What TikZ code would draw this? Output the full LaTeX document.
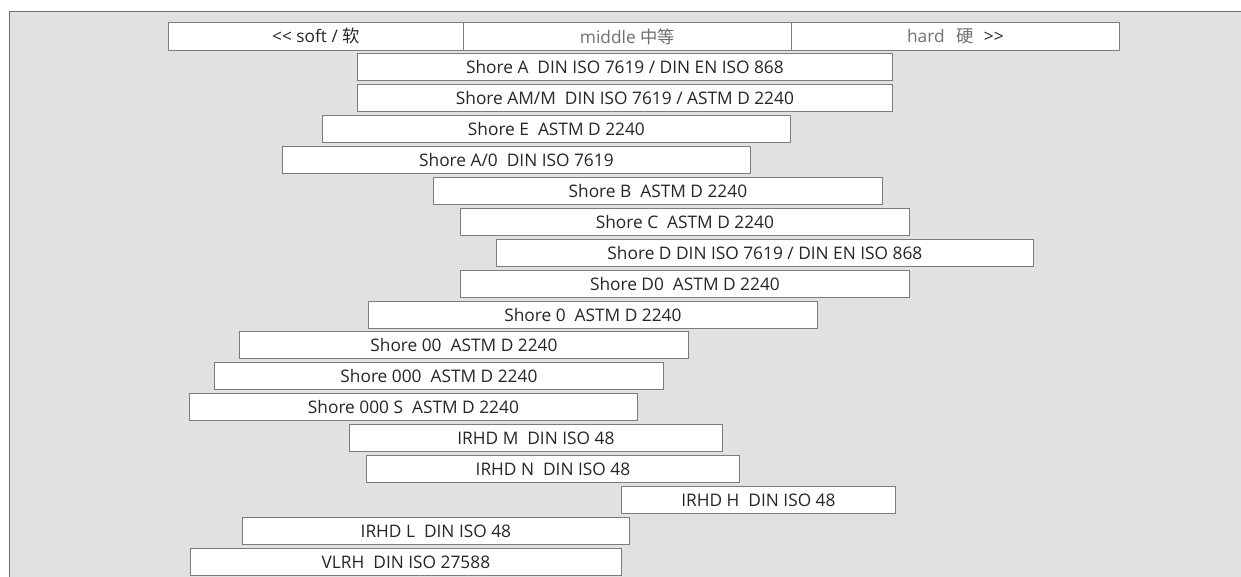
\documentclass[tikz,border=0pt]{standalone}
\usepackage{fontspec}
\setmainfont{Open Sans}
\newfontfamily\cjk{Noto Sans CJK SC}
\usepackage{xcolor}
\usetikzlibrary{positioning}
\definecolor{panelgray}{HTML}{E1E1E1}
\definecolor{framegray}{HTML}{6E6E6E}
\definecolor{boxline}{HTML}{7C7C7C}
\definecolor{txtdark}{HTML}{262626}
\definecolor{txtlight}{HTML}{707070}

\begin{document}
\begin{tikzpicture}[x=1pt, y=-1pt,
    every node/.style={font=\fontsize{17.3}{20}\selectfont, text=txtdark},
    bar/.style={draw=boxline, fill=white, line width=0.8pt, anchor=north west,
        inner sep=0pt, minimum height=27pt, minimum width=#1pt},
    head/.style={bar=#1, minimum height=28pt}]
    \useasboundingbox (0,0) rectangle (1241,577);
    \fill[panelgray] (9,12) rectangle (1241,577);
    \draw[framegray, line width=1pt] (9,577) |- (1241,12);

    % header
    \node[head=295] (soft) at (168,22) {<\kern0pt< soft / {\cjk 软}};
    \node[head=328, text=txtlight] (middle) at (463,22) {middle {\cjk 中等}};
    \node[head=328, text=txtlight] (hard) at (791,22) {hard\hspace{12pt}{\cjk 硬}\hspace{10pt}{\color{txtdark}>\kern0pt>}};

    % scales
    \node[bar=535] (shA)   at (357,53)  {Shore A~ DIN ISO 7619 / DIN EN ISO 868};
    \node[bar=535] (shAM)  at (357,84)  {Shore AM/M~ DIN ISO 7619 / ASTM D 2240};
    \node[bar=468] (shE)   at (322,115) {Shore E~ ASTM D 2240};
    \node[bar=468] (shAO)  at (282,146) {Shore A/0~ DIN ISO 7619};
    \node[bar=449] (shB)   at (433,177) {Shore B~ ASTM D 2240};
    \node[bar=449] (shC)   at (460,208) {Shore C~ ASTM D 2240};
    \node[bar=537] (shD)   at (496,239) {Shore D DIN ISO 7619 / DIN EN ISO 868};
    \node[bar=449] (shDO)  at (460,270) {Shore D0~ ASTM D 2240};
    \node[bar=449] (shO)   at (368,301) {Shore 0~ ASTM D 2240};
    \node[bar=449] (shOO)  at (239,331) {Shore 00~ ASTM D 2240};
    \node[bar=449] (shOOO) at (214,362) {Shore 000~ ASTM D 2240};
    \node[bar=448] (shOOS) at (189,393) {Shore 000 S~ ASTM D 2240};
    \node[bar=373] (irM)   at (349,424) {IRHD M~ DIN ISO 48};
    \node[bar=373] (irN)   at (366,455) {IRHD N~ DIN ISO 48};
    \node[bar=274] (irH)   at (621,486) {IRHD H~ DIN ISO 48};
    \node[bar=387] (irL)   at (242,517) {IRHD L~ DIN ISO 48};
    \node[bar=431] (vlrh)  at (190,548) {VLRH~ DIN ISO 27588};
\end{tikzpicture}
\end{document}
